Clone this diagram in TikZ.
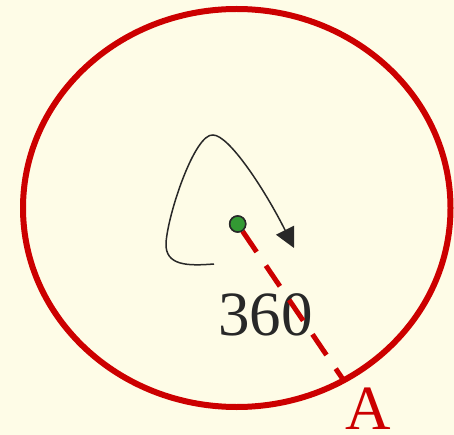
\documentclass[tikz,border=0pt]{standalone}
\usepackage{fontspec}
\setmainfont{Liberation Serif}
\usetikzlibrary{arrows.meta,calc}
\definecolor{cream}{RGB}{254,252,231}
\definecolor{rim}{RGB}{204,0,0}
\definecolor{ink}{RGB}{40,40,40}
\definecolor{pin}{RGB}{51,153,51}
\tikzset{>={Triangle[length=20pt,width=20pt]},every node/.style={font=\fontsize{63}{63}\selectfont,inner sep=0pt},
rimline/.style={rim,line width=6pt},radius/.style={rim,line width=5pt,dash pattern=on 25pt off 16.5pt},
pivot/.style={circle,draw=ink,fill=pin,line width=1.5pt,minimum size=16pt},turn/.style={ink,line width=1.5pt,->}}
\begin{document}
\begin{tikzpicture}[x=1pt,y=-1pt]
\fill[cream] (0,0) rectangle (454,435);
\coordinate (O) at (236.75,208);\coordinate (A) at ($(O)+(60:213.75 and 199)$);
\node[ink] (deg) at (265.3,314.4) {360};\node[pivot] (P) at (237.7,224) {};
\draw[radius] (P)--(A);\draw[rimline] (O) ellipse (213.75 and 199);\node[pivot] at (P) {};
\coordinate (S) at (214,264);\coordinate (T) at (213,135);\coordinate (E) at (294,248);
\draw[turn] (S) .. controls (188,266) and (165,266) .. (166,243) .. controls (168,213) and (195,133) .. (T) .. controls (229,135) and (265,190) .. (E);
\node[rim] (lblA) at (368.3,409) {A};
\end{tikzpicture}
\end{document}
